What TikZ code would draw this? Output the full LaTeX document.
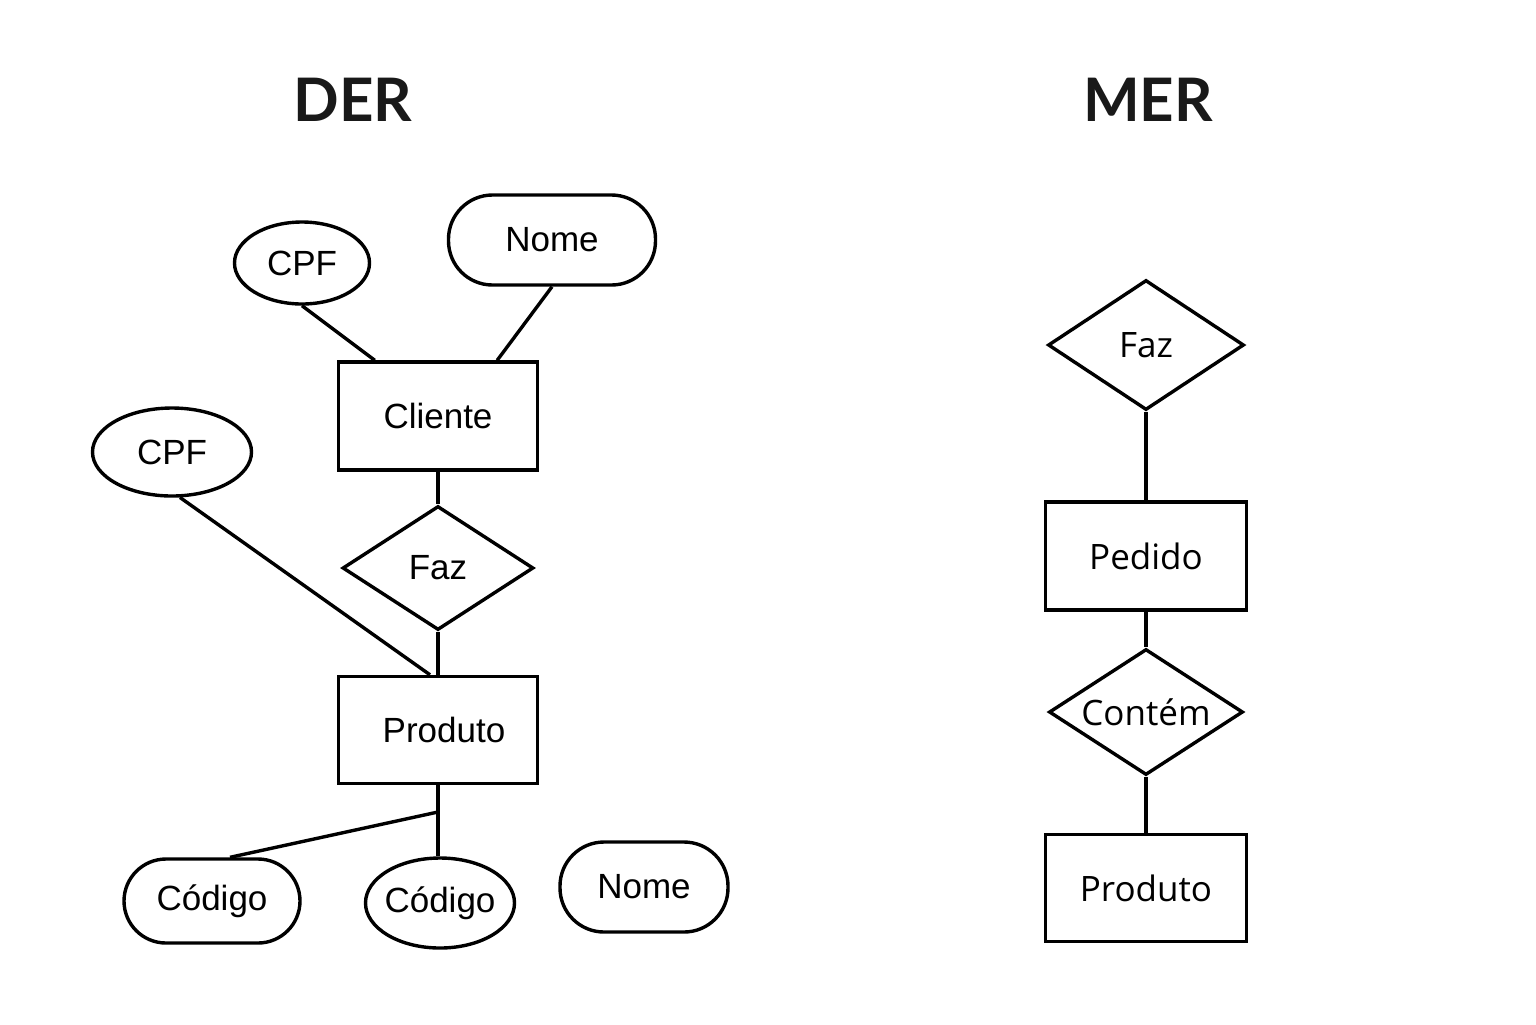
\documentclass[tikz,border=0pt]{standalone}
\usepackage{fontspec}
\setmainfont{Liberation Sans}
\newfontfamily\merfont{Open Sans}
\newfontfamily\titlefont{Lato}
\usetikzlibrary{shapes.geometric,positioning}

\begin{document}
\begin{tikzpicture}[x=0.5pt,y=-0.5pt,line width=1.7pt,
  entity/.style={rectangle,draw,inner sep=0pt,minimum width=99.5pt,minimum height=54pt},
  relation/.style={diamond,draw,inner sep=0pt,shape aspect=1.55,minimum width=96pt,minimum height=63pt},
  attrib/.style={ellipse,draw,inner sep=0pt,inner xsep=-3pt},
  pill/.style={rectangle,draw,inner sep=0pt,rounded corners=22pt},
  der node/.style={font=\fontsize{17.5}{20}\selectfont},
  mer node/.style={font=\merfont\fontsize{17.5}{20}\selectfont},
  title/.style={font=\titlefont\bfseries\fontsize{30}{36}\selectfont,text=black!90}]

  \useasboundingbox (0,0) rectangle (1536,1024);

  \node[title] (der) at (353,100) {DER};
  \node[title] (mer) at (1148,100) {MER};

  % DER
  \node[der node,attrib,minimum width=67.5pt,minimum height=41pt] (cpfa) at (302,263) {CPF};
  \node[der node,pill,minimum width=103.5pt,minimum height=45pt] (nomea) at (552,240) {Nome};
  \node[der node,entity] (cliente) at (438,416) {Cliente};
  \node[der node,attrib,minimum width=79.5pt,minimum height=44pt] (cpfb) at (172,452) {CPF};
  \node[der node,relation,minimum width=95.5pt,minimum height=62pt] (faza) at (438,568) {Faz};
  \node[der node,entity,minimum height=53.5pt] (produtoa) at (438,730) {\hspace*{6pt}Produto};
  \coordinate (split) at (438,812);
  \node[der node,pill,rounded corners=21pt,minimum width=88pt,minimum height=42pt] (codigoa) at (212,901) {Código};
  \node[der node,attrib,minimum width=74.5pt,minimum height=45pt] (codigob) at (440,903) {Código};
  \node[der node,pill,minimum width=84pt,minimum height=45pt] (nomeb) at (644,887) {Nome};

  \path (cpfa.south) edge ([xshift=19pt]cliente.north west)
        (nomea.south) edge ([xshift=-21pt]cliente.north east)
        (cliente) edge (faza)
        (faza) edge (produtoa)
        (cpfb.-80) edge ([xshift=-4pt]produtoa.north)
        (produtoa.south) edge (split)
        (split) edge (split |- codigob.north)
        (split) edge ([xshift=9pt]codigoa.north);

  % MER
  \node[mer node,relation,minimum width=98pt,minimum height=65pt] (fazb) at (1146,345) {Faz};
  \node[mer node,entity,minimum width=100.5pt] (pedido) at (1146,556) {Pedido};
  \node[mer node,relation,minimum width=97pt,minimum height=63pt] (contem) at (1146,712) {Contém};
  \node[mer node,entity,minimum width=100.5pt,minimum height=53.5pt] (produtob) at (1146,888) {Produto};

  \path (fazb) edge (pedido)
        (pedido) edge (contem)
        (contem) edge (produtob);

\end{tikzpicture}
\end{document}
